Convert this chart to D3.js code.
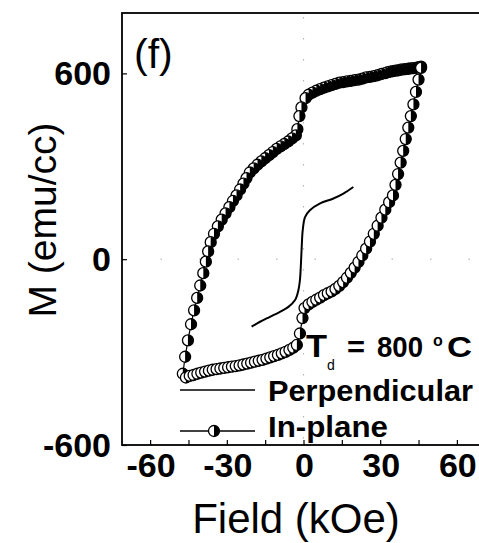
<!DOCTYPE html>
<html>
<head>
<meta charset="utf-8">
<script src="https://cdn.jsdelivr.net/npm/d3@7/dist/d3.min.js"></script>
<style>
  html, body { margin: 0; padding: 0; background: #fff; }
  svg { display: block; }
  text { font-family: "Liberation Sans", Arial, sans-serif; fill: #000; }
</style>
</head>
<body>
<svg id="chart" width="479" height="543"></svg>
<script>
// ---- data ----
const xTicks = [-60, -30, 0, 30, 60];
const xMinorTicks = [-60, -45, -30, -15, 0, 15, 30, 45, 60];
const yTicks = [-600, 0, 600];

// In-plane loop: [Field kOe, M emu/cc], descending branch then ascending branch
const inPlaneH = [46,45,44,43,42,41,40,39,38,37,36,35,34,33,32,30.5,29,27.5,26,24.5,23,21.5,20,18.5,17,15.5,14,12.5,11,9.5,8,6.5,5,3.5,2,0.8,
  -0.8,-1.6,-2.4,-3,-4.5,-6,-7.5,-9,-10.5,-12,-13.5,-15,-16.5,-18,-19.5,-21,-22.3,-23.5,-24.8,-26.2,-27.6,-29,-30.5,-32,-33.5,-35,-36.3,-37.3,-38.2,-39.2,-40.4,-41.6,-42.8,-44,-45.2,-46.3,-47.2,
  -46,-44.5,-43,-41.5,-40,-38.5,-37,-35.5,-34,-32.5,-31,-29.5,-28,-26.5,-25,-23.5,-22,-20.5,-19,-17.5,-16,-14.5,-13,-11.5,-10,-8.5,-7,-5.5,-4,-2.6,-1.4,-0.4,
  0.4,2,3.5,5,6.5,8,9.5,11,12.5,14,15.5,17,18.5,20,21.5,23,24.5,26,27.5,29,30.5,32,33.5,35,36,37,38,39,40,41,42,43,44,45,46];
const inPlaneM = [622,620,618,617,616,615,614,613,612,610,609,607,606,604,601,598,594,591,589,587,583,580,578,576,574,572,570,566,562,558,554,549,544,538,531,520,
  490,462,420,400,390,380,372,364,356,346,336,326,316,305,293,280,262,244,225,206,188,168,148,128,106,82,55,25,-8,-45,-85,-125,-165,-210,-262,-315,-370,
  -382,-377,-374,-370,-366,-363,-360,-357,-355,-353,-351,-349,-347,-345,-343,-340,-337,-334,-331,-328,-325,-321,-317,-313,-309,-304,-299,-293,-286,-277,-240,-190,
  -158,-146,-138,-131,-124,-116,-110,-104,-96,-86,-74,-60,-44,-27,-9,12,34,57,82,108,134,160,184,206,240,275,312,350,388,425,462,500,540,580,618];

// Perpendicular curve
const perpH = [-20.3,-17,-13.1,-9.2,-5.9,-3.3,-2,-1.4,-1,-0.7,-0.3,0.6,2.5,6.5,11.7,15.6,19.5];
const perpM = [-218,-202,-186,-170,-154,-132,-100,-68,-14,40,94,136,158,180,196,212,233];

// ---- layout ----
const svg = d3.select("#chart");
const pLeft = 122, pRight = 485, pTop = 13, pBottom = 445;
const x = d3.scaleLinear().domain([-71, 71]).range([pLeft, pRight]);
const y = d3.scaleLinear().domain([-600, 795]).range([pBottom, pTop]);

// faint dotted zero lines
svg.append("line").attr("x1", x(0)).attr("x2", x(0)).attr("y1", pTop + 4).attr("y2", pBottom)
  .attr("stroke", "#b8b8b8").attr("stroke-width", 1.2).attr("stroke-dasharray", "1.5,19.5");
svg.append("line").attr("x1", pLeft).attr("x2", pRight).attr("y1", y(0)).attr("y2", y(0))
  .attr("stroke", "#b8b8b8").attr("stroke-width", 1.2).attr("stroke-dasharray", "1.5,37");

// frame
svg.append("rect").attr("x", pLeft).attr("y", pTop).attr("width", pRight - pLeft).attr("height", pBottom - pTop)
  .attr("fill", "none").attr("stroke", "#000").attr("stroke-width", 1.8);

// x axis ticks (inward) + labels
const xAxis = d3.axisBottom(x).tickValues(xMinorTicks).tickSize(-5).tickFormat("");
const gx = svg.append("g").attr("transform", `translate(0,${pBottom})`).call(xAxis);
gx.select(".domain").remove();
gx.selectAll("line").attr("stroke", "#000").attr("stroke-width", 1.2);
svg.selectAll(".xlab").data(xTicks).enter().append("text")
  .attr("x", d => x(d) + 1).attr("y", 477)
  .attr("text-anchor", "middle").attr("font-size", 34).attr("font-weight", "bold")
  .text(d => d);

// y axis ticks (inward) + labels
const yAxis = d3.axisLeft(y).tickValues(yTicks).tickSize(-5).tickFormat("");
const gy = svg.append("g").attr("transform", `translate(${pLeft},0)`).call(yAxis);
gy.select(".domain").remove();
gy.selectAll("line").attr("stroke", "#000").attr("stroke-width", 1.2);
svg.selectAll(".ylab").data(yTicks).enter().append("text")
  .attr("x", 111).attr("y", d => y(d) + 12)
  .attr("text-anchor", "end").attr("font-size", 34).attr("font-weight", "bold")
  .text(d => d);

// axis titles
svg.append("text").attr("x", 296).attr("y", 533).attr("text-anchor", "middle")
  .attr("font-size", 42).text("Field (kOe)");
svg.append("text").attr("transform", "translate(56,220) rotate(-90)").attr("text-anchor", "middle")
  .attr("font-size", 39).text("M (emu/cc)");

// panel label
svg.append("text").attr("x", 134).attr("y", 68).attr("font-size", 41).text("(f)");

// ---- series ----
const inPlane = inPlaneH.map((h, i) => [h, inPlaneM[i]]);
const perp = perpH.map((h, i) => [h, perpM[i]]);
const line = d3.line().x(d => x(d[0])).y(d => y(d[1]));

svg.append("path").datum(inPlane).attr("d", line)
  .attr("fill", "none").attr("stroke", "#000").attr("stroke-width", 1.2);

const r = 5.5;
const halfArc = d3.arc()({innerRadius: 0, outerRadius: r, startAngle: 0, endAngle: Math.PI});
function marker(g) {
  g.append("circle").attr("r", r).attr("fill", "#fff").attr("stroke", "#000").attr("stroke-width", 1.3);
  g.append("path").attr("d", halfArc).attr("fill", "#000");
}
const mk = svg.selectAll(".mk").data(inPlane).enter().append("g")
  .attr("transform", d => `translate(${x(d[0])},${y(d[1])})`);
mk.each(function() { marker(d3.select(this)); });

svg.append("path").datum(perp).attr("d", d3.line().x(d => x(d[0])).y(d => y(d[1])).curve(d3.curveCatmullRom))
  .attr("fill", "none").attr("stroke", "#000").attr("stroke-width", 2);

// ---- legend ----
function label(xp, yp, size, bold, str, len) {
  const t = svg.append("text").attr("x", xp).attr("y", yp).attr("font-size", size)
    .attr("font-weight", bold ? "bold" : "normal").text(str);
  if (len) t.attr("textLength", len).attr("lengthAdjust", "spacingAndGlyphs");
  return t;
}
label(306, 357, 31, true, "T", 21);
label(327, 370, 14, false, "d");
label(347, 357, 29, true, "=", 18);
label(377, 357, 29, true, "800", 46);
label(433, 346, 16, true, "o");
label(447, 357, 29, true, "C", 25);

svg.append("line").attr("x1", 180).attr("x2", 255).attr("y1", 390).attr("y2", 390)
  .attr("stroke", "#000").attr("stroke-width", 1.5);
label(268, 401, 29, true, "Perpendicular", 205);

svg.append("line").attr("x1", 180).attr("x2", 255).attr("y1", 431).attr("y2", 431)
  .attr("stroke", "#000").attr("stroke-width", 1.5);
const lm = svg.append("g").attr("transform", "translate(214,431)");
marker(lm);
label(268, 437, 29, true, "In-plane", 120);
</script>
</body>
</html>
